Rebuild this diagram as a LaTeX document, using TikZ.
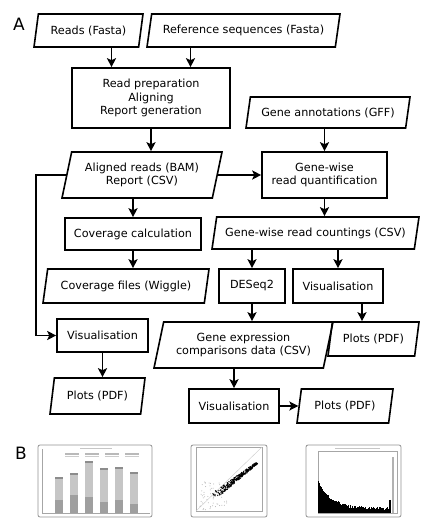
\documentclass[tikz,border=0pt]{standalone}
\usepackage{fontspec}
\setmainfont{DejaVu Sans}
\usetikzlibrary{shapes.geometric,arrows.meta}

\begin{document}
\begin{tikzpicture}[x=1pt,y=-1pt,
  font=\fontsize{11.2}{13.7}\selectfont,
  proc/.style={rectangle, draw=black, line width=1.6pt, align=center, inner sep=1pt},
  data/.style={trapezium, trapezium left angle=70, trapezium right angle=110,
    trapezium stretches body, draw=black, line width=1.6pt, align=center, inner sep=1pt},
  arr/.style={line width=1.6pt, -{Stealth[length=9pt,width=9pt,inset=2pt]}},
  thumb/.style={rounded corners=2pt, draw=gray!85, line width=0.8pt, fill=white}]

  \useasboundingbox (0,0) rectangle (420,518);

  \node[font=\fontsize{17}{17}\selectfont] (labA) at (19,24) {A};
  \node[font=\fontsize{17}{17}\selectfont] (labB) at (21,453) {B};

  \node[data, minimum width=109pt, minimum height=33pt] (reads) at (88.5,30.5) {Reads (Fasta)};
  \node[data, minimum width=193pt, minimum height=33pt] (refseq) at (243.5,30.5) {Reference sequences (Fasta)};
  \node[proc, minimum width=158pt, minimum height=60pt] (prep) at (151,98) {Read preparation\\Aligning\\Report generation};
  \node[data, minimum width=164pt, minimum height=31pt] (annot) at (328,112.5) {Gene annotations (GFF)};
  \node[data, minimum width=160pt, minimum height=46pt] (aligned) at (142,175) {Aligned reads (BAM)\\Report (CSV)};
  \node[proc, minimum width=125pt, minimum height=46pt] (quant) at (324.5,175) {Gene-wise\\read quantification};
  \node[proc, minimum width=136pt, minimum height=32pt] (covcalc) at (133,234) {Coverage calculation};
  \node[data, minimum width=207pt, minimum height=32pt] (counts) at (315.5,233) {Gene-wise read countings (CSV)};
  \node[data, minimum width=166pt, minimum height=34pt] (covfiles) at (126,286) {Coverage files (Wiggle)};
  \node[proc, minimum width=66pt, minimum height=34pt] (deseq) at (252,286) {DESeq2};
  \node[proc, minimum width=90pt, minimum height=34pt] (visr) at (338,286) {Visualisation};
  \node[proc, minimum width=91pt, minimum height=33pt] (visl) at (102.5,335.5) {Visualisation};
  \node[data, minimum width=179pt, minimum height=46pt] (expr) at (243.5,345) {Gene expression\\comparisons data (CSV)};
  \node[data, minimum width=91pt, minimum height=34pt] (plotsr) at (373.5,339) {Plots (PDF)};
  \node[data, minimum width=95pt, minimum height=36pt] (plotsl) at (97.5,396) {Plots (PDF)};
  \node[proc, minimum width=90pt, minimum height=34pt] (visb) at (234,406) {Visualisation};
  \node[data, minimum width=96pt, minimum height=34pt] (plotsb) at (345,406) {Plots (PDF)};

  \draw[arr] ([xshift=-39.5pt]prep.north |- reads.south) -- ([xshift=-39.5pt]prep.north);
  \draw[arr] ([xshift=39.5pt]prep.north |- refseq.south) -- ([xshift=39.5pt]prep.north);
  \draw[arr] (prep.south) -- (prep.south |- aligned.north);
  \draw[arr] (quant.north |- annot.south) -- (quant.north);
  \draw[arr] (aligned.east) -- (quant.west);
  \draw[arr] (aligned.west) -- ++(-30,0) |- (visl.west);
  \draw[arr] (covcalc.north |- aligned.south) -- (covcalc.north);
  \draw[arr] (covcalc.south) -- (covcalc.south |- covfiles.north);
  \draw[arr] (quant.south) -- (quant.south |- counts.north);
  \draw[arr] (deseq.north |- counts.south) -- (deseq.north);
  \draw[arr] (visr.north |- counts.south) -- (visr.north);
  \draw[arr] (deseq.south) -- (deseq.south |- expr.north);
  \draw[arr] ([xshift=24pt]visr.south) -- ([xshift=24pt]visr.south |- plotsr.north);
  \draw[arr] (visl.south) -- (visl.south |- plotsl.north);
  \draw[arr] (visb.north |- expr.south) -- (visb.north);
  \draw[arr] (visb.east) -- (plotsb.west);

  % B: thumbnails
  \draw[thumb] (38,445) rectangle (152,517);
  \draw[gray!70, line width=0.4pt] (42,449) -- (42,513) -- (150,513);
  \fill[gray!45] (80,447.5) rectangle (112,448.5);
  \foreach \lx in {65,85,105,125}{
    \fill[gray!55] (\lx,453) rectangle (\lx+14,454.5);
    \fill[gray!40] (\lx,455.5) rectangle (\lx+14,457);
  }
  \foreach \bx/\btop/\bmid in {59/477/500, 74/473/495, 89/461/497, 104/468/502, 119/467/500, 134/472/504}{
    \fill[gray!45] (\bx-4,\btop) rectangle (\bx+4,513);
    \fill[gray!75] (\bx-4,\bmid) rectangle (\bx+4,513);
    \fill[gray!90] (\bx-4,\btop) rectangle (\bx+4,\btop+1.5);
  }

  \draw[thumb] (191,445) rectangle (267,517);
  \draw[gray!70, line width=0.4pt] (196,447) rectangle (262,511);
  \draw[gray!40, line width=0.4pt] (196,511) -- (262,447);
  \pgfmathsetseed{7}
  \foreach \i in {1,...,60}{
    \fill[gray!60] (200+30*rnd,510-28*rnd) circle (0.5);
  }
  \foreach \i in {1,...,400}{
    \pgfmathsetmacro\t{rnd^0.8}
    \pgfmathsetmacro\n{2.5*rand*(1-0.7*\t)}
    \fill (214+43*\t+\n,496-33*\t+\n) circle (0.6);
  }

  \draw[thumb] (306,445) rectangle (401,517);
  \draw[gray!70, line width=0.4pt] (318,451) rectangle (397,513);
  \fill[gray!45] (335,448) rectangle (380,449);
  \foreach \i in {0,...,70}{
    \pgfmathsetmacro\h{3+27*exp(-\i/13)+3*rnd}
    \fill (318+\i,513) rectangle (319+\i,513-\h);
  }
  \fill (389,500) rectangle (391,513);
  \fill[gray!60] (391.5,457) rectangle (393.5,513);
\end{tikzpicture}
\end{document}
